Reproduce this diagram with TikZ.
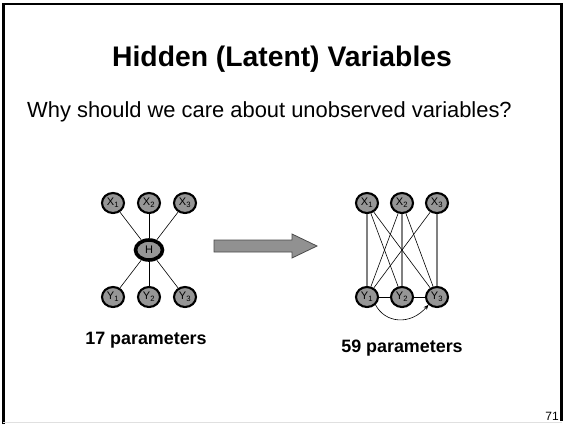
\documentclass[tikz,border=0pt]{standalone}
\usepackage{fontspec}
\setmainfont{Liberation Sans}
\usetikzlibrary{shapes.geometric,arrows.meta}
\definecolor{nodegray}{RGB}{150,150,150}
\definecolor{arrowgray}{RGB}{145,145,145}
\tikzset{
  var/.style={ellipse, draw=black, line width=2.1pt, fill=nodegray,
    minimum width=22pt, minimum height=20pt, inner sep=0pt, font=\fontsize{11}{11}\selectfont},
  hidden/.style={var, line width=3.6pt, minimum width=27pt},
  edge/.style={line width=0.6pt, black},
  vedge/.style={line width=1.5pt, black!50},
}
\begin{document}
\begin{tikzpicture}[x=1pt,y=-1pt]
  \useasboundingbox (0,0) rectangle (564,424);
  \fill[white] (0,0) rectangle (564,424);
  % slide frame
  \draw[line width=2.5pt, black] (3.5,424) -- (3.5,4) -- (561.5,4) -- (561.5,421);
  \draw[line width=1pt, black!12] (3,422.5) -- (562,422.5);

  % titles
  \node[font=\bfseries\fontsize{28.3}{28}\selectfont, anchor=base, inner sep=0pt] (title) at (282,66) {Hidden (Latent) Variables};
  \node[font=\fontsize{21.9}{22}\selectfont, anchor=base west, inner sep=0pt] (question) at (27,117) {Why should we care about unobserved variables?};

  % model with a hidden variable
  \node[var] (lx1) at (113,203) {X\textsubscript{1}};
  \node[var] (lx2) at (149,203) {X\textsubscript{2}};
  \node[var] (lx3) at (185,203) {X\textsubscript{3}};
  \node[hidden] (h) at (149,250) {H};
  \node[var] (ly1) at (113,297) {Y\textsubscript{1}};
  \node[var] (ly2) at (149,297) {Y\textsubscript{2}};
  \node[var] (ly3) at (185,297) {Y\textsubscript{3}};
  \foreach \n in {lx1,lx2,lx3,ly1,ly2,ly3} \draw[edge] (\n) -- (h);
  \node[font=\bfseries\fontsize{17.9}{18}\selectfont, anchor=base, inner sep=0pt] (lcount) at (146,344) {17 parameters};

  % block arrow
  \draw[draw=black!70, line width=0.8pt, fill=arrowgray, line join=miter]
    (214,240) -- (292,240) -- (292,234) -- (317,246) -- (292,258) -- (292,252) -- (214,252) -- cycle;

  % model without the hidden variable
  \node[var] (rx1) at (367,203) {X\textsubscript{1}};
  \node[var] (rx2) at (402,203) {X\textsubscript{2}};
  \node[var] (rx3) at (437,203) {X\textsubscript{3}};
  \node[var] (ry1) at (367,297) {Y\textsubscript{1}};
  \node[var] (ry2) at (402,297) {Y\textsubscript{2}};
  \node[var] (ry3) at (437,297) {Y\textsubscript{3}};
  \draw[vedge] (rx1) -- (ry1);
  \draw[vedge] (rx2) -- (ry2);
  \draw[vedge] (rx3) -- (ry3);
  \draw[edge] (rx1) -- (ry2);
  \draw[edge] (rx1) -- (ry3);
  \draw[edge] (rx2) -- (ry1);
  \draw[edge] (rx2) -- (ry3);
  \draw[edge] (rx3) -- (ry1);
  \draw[edge] (ry1) -- (ry2);
  \draw[edge] (ry2) -- (ry3);
  \draw[edge, -{Stealth[length=5pt,width=4pt]}] (ry1.south east) .. controls (385,323) and (410,326) .. (ry3.south west);
  \node[font=\bfseries\fontsize{17.9}{18}\selectfont, anchor=base, inner sep=0pt] (rcount) at (402,352) {59 parameters};

  % page number
  \node[font=\fontsize{12}{12}\selectfont, anchor=base east, inner sep=0pt] (page) at (559,420) {71};
\end{tikzpicture}
\end{document}
